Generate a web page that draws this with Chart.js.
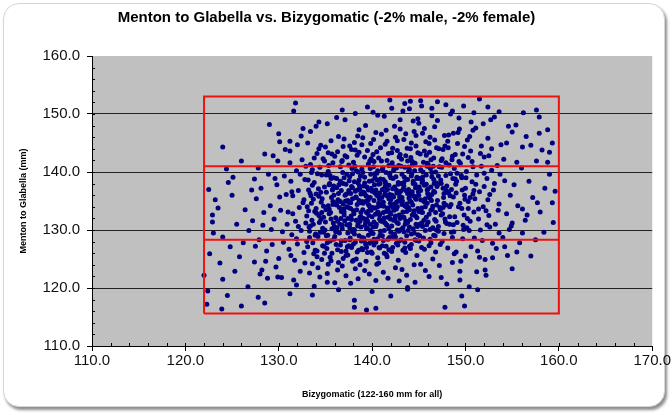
<!DOCTYPE html>
<html>
<head>
<meta charset="utf-8">
<script src="https://cdn.jsdelivr.net/npm/chart.js@4/dist/chart.umd.min.js"></script>
<style>
  html, body { margin: 0; padding: 0; background: #fff; }
  #wrap { position: relative; width: 672px; height: 415px; overflow: hidden; }
  #card {
    position: absolute; left: 3px; top: 3px; width: 660px; height: 402px;
    border: 1px solid #d6d6d6; border-radius: 16px; background: #fff;
    box-shadow: 2px 3px 3px rgba(0,0,0,0.45);
  }
  #chart { position: absolute; left: 0; top: 0; }
</style>
</head>
<body>
<div id="wrap">
  <div id="card"></div>
  <canvas id="chart" width="672" height="415"></canvas>
</div>
<script>
const chartTitle = 'Menton to Glabella vs. Bizygomatic (-2% male, -2% female)';
const xTitle = 'Bizygomatic (122-160 mm for all)';
const yTitle = 'Menton to Glabella (mm)';

const xRange = [110, 170];
const yRange = [110, 160];

// red limit box: x edges and y lines (bottom, lower split, upper split, top)
const boxX = [122, 160];
const boxY = [115.6, 128.3, 141.0, 153.0];

// sparse points around the edges of the cloud
const edgePoints = [
  [131.8,151.9],[131.6,150.5],[124.0,144.3],[126.0,141.9],[124.4,140.5],[130.1,145.2],[131.2,145.3],[128.5,143.1],
  [129.9,141.9],[131.2,141.6],[125.1,139.1],[127.4,138.8],[125.0,136.0],[136.8,150.7],[134.0,147.9],
  [122.9,132.6],[122.9,131.4],[124.0,128.8],[122.6,125.9],[123.7,124.3],[122.0,122.2],[124.0,121.5],[126.7,120.2],
  [127.8,118.4],[128.5,117.4],[123.9,116.4],[131.2,119.0],[133.6,118.8],[124.8,127.1],[125.8,125.4],[127.4,124.5],
  [128.2,123.1],[128.8,121.7],[129.9,121.9],[131.9,120.5],[135.2,121.0],[136.4,119.7],[138.1,117.9],[138.1,116.7],
  [139.4,116.2],[140.4,116.5],[147.8,116.7],[149.9,116.9],[149.6,118.6],[151.3,119.7],[143.8,120.1],[155.0,123.3],
  [152.1,123.1],[152.2,122.2],[149.4,122.9],[155.5,126.2],[152.9,125.2],[151.5,125.3],[154.2,127.1],[158.4,129.6],
  [156.1,129.5],[157.5,128.3],[154.7,130.1],[156.6,132.6],[159.3,134.7],[157.7,134.7],[156.1,133.6],[155.0,131.2],
  [153.6,129.5],[141.9,152.4],[147.0,152.1],[151.5,152.6],[157.6,150.7],[157.9,149.5],[157.9,146.7],[159.3,145.0],
  [159.0,143.4],[158.8,141.7],[156.5,146.1],[157.0,144.6],[156.1,144.3],[155.0,146.9],[155.5,141.7],[154.4,145.0],
  [123.2,135.2],[123.5,133.8],[122.5,137.0],[124.6,138.2],[123.0,129.5],[125.5,131.0],[126.4,133.5],[126.8,129.9],
  [127.5,127.2],[126.2,127.8],[125.3,122.9],[122.4,119.5],[124.5,118.7],[126.0,116.9],[122.3,117.2],
  [143.5,151.8],[144.0,150.9],[145.2,152.3],[146.4,151.0],[148.6,150.5],[149.8,151.4],[150.9,150.2],[152.4,151.2],
  [153.6,150.4],[139.5,151.2],[140.6,149.8],[138.2,150.1],[144.9,149.2],[143.0,149.0]
];

// x 127 - 135
const leftPoints = [
  [127.2,131.6],[127.6,135.4],[127.9,128.3],[128.1,137.2],[128.4,133.0],[128.7,126.4],[128.9,139.6],[128.3,130.8],
  [127.8,140.7],[128.6,124.6],[127.1,136.9],[128.0,122.4],
  [129.1,134.2],[129.3,127.5],[129.5,131.9],[129.8,137.8],[130.0,125.1],[130.2,133.4],[130.4,129.7],[130.6,139.3],
  [130.8,136.1],[129.4,142.8],[129.7,123.6],[130.1,135.7],[130.5,127.9],[130.9,131.0],[129.6,138.9],[130.3,121.8],
  [130.7,143.9],[129.2,130.1],[130.0,146.6],[129.0,148.2],
  [131.0,133.1],[131.1,126.7],[131.3,138.4],[131.4,129.2],[131.5,135.9],[131.7,124.8],[131.8,131.5],[131.9,140.2],
  [132.0,127.6],[132.1,136.8],[132.2,133.9],[132.3,122.9],[132.4,129.9],[132.5,142.1],[132.6,134.7],[132.7,126.1],
  [132.8,138.7],[132.9,131.2],[131.2,143.6],[131.6,121.4],[132.0,144.7],[132.6,147.5],[131.4,136.6],[132.3,139.6],
  [131.9,128.5],[132.8,124.3],[132.1,130.6],[131.5,132.8],[132.7,135.2],[132.9,141.0],[131.3,125.6],[132.4,146.2],
  [133.0,132.4],[133.1,127.1],[133.2,136.9],[133.3,129.8],[133.4,141.3],[133.5,134.6],[133.6,124.2],[133.7,131.0],
  [133.8,138.2],[133.9,126.5],[134.0,133.7],[134.1,143.2],[134.2,128.9],[134.3,135.8],[134.4,121.9],[134.5,131.8],
  [134.6,139.5],[134.7,127.3],[134.8,134.1],[134.9,137.4],[133.1,145.0],[133.3,122.6],[133.5,139.9],[133.7,135.3],
  [133.9,129.1],[134.1,125.4],[134.3,132.5],[134.5,144.6],[134.7,130.3],[134.9,126.0],[133.2,133.3],[133.4,130.7],
  [133.6,137.7],[133.8,142.4],[134.0,136.2],[134.2,123.5],[134.4,140.8],[134.6,133.0],[134.8,129.6],[133.4,147.0],
  [134.3,148.6],[134.9,141.9],[133.0,128.0],[134.6,124.9],[133.8,120.3]
];

// x 135 - 141
const centerLeftPoints = [
  [135.0,131.4],[135.1,136.5],[135.2,127.8],[135.3,140.1],[135.4,133.6],[135.5,125.3],[135.6,138.9],[135.7,130.2],
  [135.8,134.9],[135.9,128.4],[136.0,142.7],[136.1,132.1],[136.2,137.3],[136.3,126.6],[136.4,135.0],[136.5,129.5],
  [136.6,140.9],[136.7,133.2],[136.8,123.8],[136.9,138.0],[135.0,144.3],[135.2,122.5],[135.4,137.8],[135.6,131.9],
  [135.8,141.6],[136.0,128.9],[136.2,134.3],[136.4,146.1],[136.6,127.4],[136.8,130.8],[135.1,129.0],[135.3,134.2],
  [135.5,139.4],[135.7,126.0],[135.9,136.0],[136.1,130.0],[136.3,143.5],[136.5,133.9],[136.7,136.8],[136.9,125.1],
  [135.2,148.3],[135.6,145.4],[136.0,120.9],[136.4,124.4],[136.8,142.0],[135.4,132.8],[135.9,139.0],[136.3,131.5],
  [136.7,128.1],[136.9,134.5],[135.7,143.1],[136.2,149.4],[135.3,124.1],[136.6,138.4],[135.8,137.1],
  [137.0,132.6],[137.1,128.2],[137.2,137.9],[137.3,134.0],[137.4,125.7],[137.5,141.2],[137.6,130.4],[137.7,136.3],
  [137.8,127.0],[137.9,139.7],[138.0,133.3],[138.1,129.3],[138.2,143.8],[138.3,135.6],[138.4,126.2],[138.5,131.1],
  [138.6,138.6],[138.7,124.0],[138.8,134.7],[138.9,140.5],[137.0,145.7],[137.2,122.1],[137.4,135.1],[137.6,139.2],
  [137.8,131.8],[138.0,127.6],[138.2,136.7],[138.4,142.9],[138.6,129.0],[138.8,133.0],[137.1,136.0],[137.3,130.9],
  [137.5,127.3],[137.7,133.7],[137.9,135.4],[138.1,138.3],[138.3,125.0],[138.5,140.0],[138.7,132.2],[138.9,128.7],
  [137.0,139.0],[137.2,126.4],[137.4,132.0],[137.6,144.5],[137.8,137.5],[138.0,130.1],[138.2,123.3],[138.4,134.4],
  [138.6,147.3],[138.8,136.2],[137.3,142.6],[137.7,120.8],[138.1,145.1],[138.5,121.6],[138.9,126.8],[137.5,134.8],
  [137.9,129.7],[138.3,131.7],[138.7,137.0],[137.1,149.0],[138.0,141.7],[138.6,143.4],[137.6,128.3],[138.8,130.5],
  [137.9,124.6],
  [139.0,133.5],[139.1,128.6],[139.2,138.1],[139.3,131.3],[139.4,135.8],[139.5,126.1],[139.6,141.4],[139.7,134.2],
  [139.8,129.9],[139.9,137.2],[140.0,132.3],[140.1,143.0],[140.2,127.4],[140.3,136.4],[140.4,130.6],[140.5,139.8],
  [140.6,125.2],[140.7,134.6],[140.8,131.9],[140.9,138.8],[139.0,145.9],[139.2,123.0],[139.4,130.2],[139.6,136.9],
  [139.8,140.6],[140.0,128.0],[140.2,135.1],[140.4,146.8],[140.6,133.1],[140.8,126.9],[139.1,137.6],[139.3,134.9],
  [139.5,131.6],[139.7,127.7],[139.9,142.3],[140.1,129.4],[140.3,133.8],[140.5,136.0],[140.7,124.3],[140.9,144.2],
  [139.0,126.6],[139.2,139.1],[139.4,133.0],[139.6,129.1],[139.8,135.6],[140.0,138.5],[140.2,131.4],[140.4,121.3],
  [140.6,140.2],[140.8,135.3],[139.3,148.0],[139.7,122.4],[140.1,150.3],[140.5,124.1],[140.9,129.8],[139.5,143.7],
  [139.9,133.4],[140.3,139.0],[140.7,137.9],[139.1,132.0],[139.6,134.4],[140.0,136.7],[140.4,127.9],[140.8,132.6],
  [139.4,127.0],[139.8,131.0],[140.2,141.8],[140.6,128.5],[139.2,136.2],[140.0,119.4]
];

// x 141 - 147
const centerRightPoints = [
  [141.0,134.3],[141.1,129.0],[141.2,138.7],[141.3,132.1],[141.4,136.6],[141.5,127.2],[141.6,142.0],[141.7,133.5],
  [141.8,130.3],[141.9,139.4],[142.0,135.2],[142.1,126.3],[142.2,144.1],[142.3,131.7],[142.4,137.4],[142.5,128.8],
  [142.6,140.7],[142.7,134.0],[142.8,124.8],[142.9,136.3],[141.0,146.5],[141.2,122.7],[141.4,131.2],[141.6,135.9],
  [141.8,141.1],[142.0,129.6],[142.2,133.9],[142.4,147.9],[142.6,127.7],[142.8,138.2],[141.1,137.0],[141.3,126.0],
  [141.5,139.9],[141.7,128.4],[141.9,133.0],[142.1,143.3],[142.3,135.7],[142.5,132.4],[142.7,130.0],[142.9,142.6],
  [141.0,131.5],[141.2,134.8],[141.4,144.8],[141.6,125.4],[141.8,137.7],[142.0,139.0],[142.2,127.0],[142.4,134.5],
  [142.6,136.9],[142.8,131.1],[141.3,149.6],[141.7,121.7],[142.1,151.0],[142.5,123.5],[142.9,128.1],[141.5,133.2],
  [141.9,136.1],[142.3,140.3],[142.7,145.4],[141.1,140.4],[141.6,130.8],[142.0,132.7],[142.4,129.3],[142.8,135.0],
  [141.4,138.3],[141.8,126.6],[142.2,137.1],[142.6,133.6],[141.2,128.2],[142.0,118.6],[142.9,121.2],[141.5,147.2],
  [143.0,135.0],[143.1,130.1],[143.2,139.6],[143.3,133.1],[143.4,137.6],[143.5,127.9],[143.6,142.8],[143.7,134.5],
  [143.8,131.3],[143.9,140.1],[144.0,136.2],[144.1,126.8],[144.2,145.0],[144.3,132.6],[144.4,138.4],[144.5,129.5],
  [144.6,141.5],[144.7,135.3],[144.8,125.6],[144.9,137.3],[143.0,147.4],[143.2,123.2],[143.4,132.2],[143.6,136.8],
  [143.8,141.9],[144.0,130.5],[144.2,134.8],[144.4,148.8],[144.6,128.3],[144.8,139.1],[143.1,138.0],[143.3,126.5],
  [143.5,140.8],[143.7,129.0],[143.9,133.9],[144.1,144.0],[144.3,136.6],[144.5,133.3],[144.7,131.0],[144.9,143.3],
  [143.0,132.0],[143.2,135.6],[143.4,145.6],[143.6,126.1],[143.8,138.7],[144.0,140.4],[144.2,127.5],[144.4,135.9],
  [144.6,137.9],[144.8,132.1],[143.3,150.5],[143.7,122.2],[144.1,152.2],[144.5,124.0],[144.9,129.2],[143.5,134.2],
  [143.9,137.0],[144.3,141.2],[144.7,146.3],[143.1,141.0],[143.6,131.6],[144.0,133.5],[144.4,130.2],[144.8,135.8],
  [143.4,129.7],[144.2,139.3],[144.6,121.0],[143.8,119.8],
  [145.0,136.0],[145.1,131.0],[145.2,140.4],[145.3,133.8],[145.4,138.5],[145.5,128.6],[145.6,143.6],[145.7,135.4],
  [145.8,132.2],[145.9,141.0],[146.0,137.1],[146.1,127.3],[146.2,146.0],[146.3,133.4],[146.4,139.2],[146.5,130.4],
  [146.6,142.4],[146.7,136.5],[146.8,126.2],[146.9,138.1],[145.0,148.4],[145.2,124.1],[145.4,133.0],[145.6,137.7],
  [145.8,142.9],[146.0,131.4],[146.2,135.5],[146.4,149.7],[146.6,129.1],[146.8,140.0],[145.1,138.9],[145.3,127.0],
  [145.5,141.7],[145.7,129.9],[145.9,134.6],[146.1,144.9],[146.3,137.4],[146.5,134.1],[146.7,131.8],[146.9,144.2],
  [145.0,133.2],[145.2,136.8],[145.4,146.7],[145.6,126.7],[145.8,139.5],[146.0,141.3],[146.2,128.4],[146.4,136.1],
  [146.6,138.7],[146.8,133.0],[145.3,151.4],[145.7,123.0],[146.1,122.0],[146.5,125.0],[146.9,130.0],[145.5,135.0],
  [145.9,136.9],[146.3,142.1],[146.7,147.8],[145.4,130.6]
];

// x 147 - 160
const rightPoints = [
  [147.0,135.1],[147.1,130.6],[147.2,140.9],[147.3,133.5],[147.4,138.0],[147.5,128.0],[147.6,143.9],[147.7,136.3],
  [147.8,131.9],[147.9,141.6],[148.0,137.6],[148.1,126.9],[148.2,146.4],[148.3,134.0],[148.4,139.7],[148.5,129.6],
  [148.6,142.7],[148.7,135.7],[148.8,125.9],[148.9,138.8],[147.0,148.9],[147.2,123.9],[147.4,132.6],[147.6,137.2],
  [147.8,144.5],[148.0,131.1],[148.2,136.4],[148.4,150.0],[148.6,128.7],[148.8,140.6],[147.1,139.3],[147.3,127.5],
  [147.5,142.3],[147.7,129.4],[147.9,134.3],[148.1,145.3],[148.3,132.3],[148.5,137.0],[148.7,130.9],[148.9,143.0],
  [147.4,121.8],[148.0,120.7],[148.6,124.4],[147.9,151.6],[147.6,133.9],
  [149.0,136.4],[149.1,131.3],[149.3,141.8],[149.4,134.6],[149.6,139.0],[149.7,128.5],[149.9,144.4],[150.0,137.2],
  [150.2,132.0],[150.3,142.5],[150.5,135.6],[150.6,127.1],[150.8,147.2],[150.9,133.1],[149.2,146.8],[149.5,124.6],
  [149.8,130.1],[150.1,140.1],[150.4,129.9],[150.7,138.3],[149.0,126.2],[149.3,149.3],[149.6,133.7],[149.9,136.0],
  [150.2,145.5],[150.5,131.5],[150.8,140.9],[149.1,139.8],[149.4,121.4],[149.7,143.1],[150.0,125.5],[150.3,134.9],
  [150.6,148.6],[150.9,136.8],[150.4,120.2],
  [151.0,135.4],[151.2,139.5],[151.4,131.9],[151.6,143.2],[151.8,128.2],[152.0,137.5],[152.2,133.3],[152.4,145.8],
  [152.6,130.5],[152.8,140.3],[151.1,147.6],[151.3,126.4],[151.5,136.6],[151.7,141.0],[151.9,134.0],[152.1,124.9],
  [152.3,138.9],[152.5,132.5],[152.7,149.0],[152.9,127.7],[151.6,130.0],[152.0,142.6],[152.4,135.2],[151.2,122.8],
  [152.8,144.0],
  [153.0,136.9],[153.2,131.0],[153.4,141.1],[153.6,134.5],[153.8,144.7],[154.0,128.7],[154.2,138.5],[154.4,132.8],
  [154.6,147.9],[154.8,136.0],[153.3,126.8],[153.7,139.6],[154.1,142.2],[154.5,125.6],[153.1,149.5],[154.9,130.7],
  [155.2,137.8],[155.6,134.2],[156.0,140.7],[156.4,131.7],[156.8,138.4],[157.2,135.6],[157.6,141.9],[158.0,133.1],
  [158.5,137.2],[159.0,139.6],[159.4,131.3],[155.8,127.8],[157.0,125.5],[158.2,143.8],[159.6,136.7],[155.4,148.1],
  [156.2,150.2],[158.8,147.3]
];

// the solid-looking middle of the cloud
const densePoints = [
  [133.25,130.5],[133.45,135.9],[133.65,127.8],[133.85,133.2],[133.15,138.6],[133.55,131.7],[133.75,125.9],[133.35,136.4],
  [133.95,129.3],[133.05,134.0],[133.6,140.4],[133.3,128.7],
  [134.05,132.9],[134.25,137.1],[134.45,129.6],[134.65,135.4],[134.85,127.2],[134.15,139.7],[134.35,131.3],[134.55,134.8],
  [134.75,142.3],[134.95,130.0],[134.1,126.4],[134.5,136.5],[134.8,132.2],[134.3,144.0],
  [135.05,133.5],[135.25,129.1],[135.45,138.0],[135.65,135.6],[135.85,131.2],[135.15,126.8],[135.35,141.1],[135.55,133.0],
  [135.75,136.9],[135.95,130.6],[135.1,139.5],[135.5,128.1],[135.8,134.4],[135.3,143.3],[135.6,124.7],[135.9,137.6],
  [136.05,134.7],[136.25,130.4],[136.45,137.8],[136.65,132.0],[136.85,139.9],[136.15,127.5],[136.35,135.2],[136.55,131.0],
  [136.75,141.8],[136.95,133.6],[136.1,129.7],[136.4,136.3],[136.7,126.3],[136.9,144.4],[136.2,138.9],[136.6,134.9],
  [136.3,123.1],[136.8,130.2],
  [137.05,131.6],[137.25,136.2],[137.45,133.9],[137.65,128.6],[137.85,140.6],[137.15,135.0],[137.35,127.1],[137.55,138.5],
  [137.75,132.4],[137.95,130.0],[137.1,142.8],[137.4,129.5],[137.7,134.7],[137.9,137.3],[137.2,125.6],[137.6,131.0],
  [137.8,143.9],[137.3,139.6],[137.5,136.8],[137.0,133.1],
  [138.05,132.8],[138.25,135.7],[138.45,130.7],[138.65,137.6],[138.85,128.1],[138.15,141.0],[138.35,133.5],[138.55,126.5],
  [138.75,139.3],[138.95,134.9],[138.1,130.0],[138.4,136.9],[138.7,131.5],[138.9,144.7],[138.2,127.9],[138.6,135.1],
  [138.3,140.2],[138.8,132.3],[138.0,124.8],[138.5,138.1],[138.45,146.2],
  [139.05,134.6],[139.25,130.8],[139.45,137.4],[139.65,132.5],[139.85,139.6],[139.15,128.2],[139.35,135.9],[139.55,133.2],
  [139.75,141.9],[139.95,129.5],[139.1,136.5],[139.4,131.8],[139.7,138.4],[139.9,126.2],[139.2,142.6],[139.6,135.2],
  [139.3,127.6],[139.8,133.8],[139.0,139.9],[139.5,130.3],[139.85,144.9],[139.35,124.6],
  [140.05,133.9],[140.25,137.8],[140.45,131.0],[140.65,135.8],[140.85,129.1],[140.15,140.9],[140.35,132.7],[140.55,138.6],
  [140.75,127.0],[140.95,134.2],[140.1,130.5],[140.4,136.9],[140.7,142.4],[140.9,131.6],[140.2,128.4],[140.6,134.0],
  [140.3,139.7],[140.8,136.4],[140.0,126.0],[140.5,143.5],[140.65,133.0],[140.15,145.6],[140.85,138.0],
  [141.05,135.6],[141.25,131.4],[141.45,138.0],[141.65,133.8],[141.85,128.7],[141.15,140.7],[141.35,136.1],[141.55,130.9],
  [141.75,143.2],[141.95,134.6],[141.1,127.3],[141.4,137.5],[141.7,132.2],[141.9,139.8],[141.2,133.0],[141.6,145.3],
  [141.3,129.9],[141.8,135.4],[141.0,141.9],[141.5,125.8],[141.65,137.0],[141.25,134.1],[141.95,131.9],
  [142.05,134.2],[142.25,138.9],[142.45,132.0],[142.65,136.4],[142.85,129.8],[142.15,141.6],[142.35,133.4],[142.55,139.2],
  [142.75,127.4],[142.95,135.7],[142.1,130.7],[142.4,137.2],[142.7,143.7],[142.9,132.6],[142.2,128.9],[142.6,134.8],
  [142.3,140.9],[142.8,137.9],[142.0,126.5],[142.5,146.0],[142.65,131.3],[142.15,136.0],[142.85,141.1],
  [143.05,136.7],[143.25,132.3],[143.45,139.1],[143.65,134.0],[143.85,129.9],[143.15,142.2],[143.35,137.1],[143.55,131.0],
  [143.75,144.1],[143.95,135.5],[143.1,128.3],[143.4,138.2],[143.7,133.2],[143.9,140.8],[143.2,134.4],[143.6,146.6],
  [143.3,130.4],[143.8,136.3],[143.0,143.0],[143.5,126.9],[143.65,138.7],[143.25,135.0],
  [144.05,135.1],[144.25,139.7],[144.45,132.9],[144.65,137.3],[144.85,130.6],[144.15,142.5],[144.35,134.3],[144.55,140.2],
  [144.75,128.2],[144.95,136.6],[144.1,131.8],[144.4,138.0],[144.7,144.5],[144.9,133.7],[144.2,129.3],[144.6,135.6],
  [144.3,141.8],[144.8,138.9],[144.0,127.2],[144.5,147.0],[144.65,132.4],
  [145.05,137.4],[145.25,133.1],[145.45,140.0],[145.65,134.8],[145.85,130.9],[145.15,143.1],[145.35,138.2],[145.55,131.7],
  [145.75,145.2],[145.95,136.3],[145.1,129.0],[145.4,139.1],[145.7,134.0],[145.9,141.5],[145.2,135.2],[145.6,147.5],
  [145.3,131.2],[145.8,137.9],[145.0,128.1],
  [146.05,135.9],[146.25,140.6],[146.45,133.6],[146.65,138.0],[146.85,131.5],[146.15,143.4],[146.35,135.1],[146.55,141.0],
  [146.75,129.0],[146.95,137.5],[146.1,132.7],[146.4,139.9],[146.7,145.5],[146.9,134.3],[146.2,130.1],[146.6,136.7],
  [146.3,127.8],
  [147.05,137.9],[147.25,133.9],[147.45,140.8],[147.65,135.6],[147.85,131.4],[147.15,144.0],[147.35,138.6],[147.55,132.8],
  [147.75,146.3],[147.95,136.8],[147.1,129.8],[147.4,142.0],[147.7,134.6],[147.9,139.4],
  [148.05,136.5],[148.25,141.2],[148.45,134.4],[148.65,138.9],[148.85,132.3],[148.15,144.2],[148.35,135.9],[148.55,142.1],
  [148.75,129.7],[148.95,137.9],[148.3,131.0],[148.7,146.7],
  [149.05,138.4],[149.25,134.0],[149.45,141.5],[149.65,136.9],[149.85,132.6],[149.15,144.9],[149.55,139.4],[149.75,130.8],
  [149.35,147.4],[149.95,135.3],
  [150.05,139.0],[150.3,133.7],[150.55,143.6],[150.8,136.2],[150.15,130.4],[150.45,146.1],[150.7,141.8],[150.95,128.6],
  [151.1,137.9],[151.4,133.6],[151.7,144.5],[152.0,139.8],[152.3,130.9],[152.6,136.1],[151.9,148.3],[152.5,142.8],
  [153.1,138.0],[153.5,133.4]
];

const FONT = "Arial, 'Liberation Sans', sans-serif";

function toXY(list) {
  return list.map(p => ({ x: p[0], y: p[1] }));
}

const scatterData = toXY([].concat(edgePoints, leftPoints, centerLeftPoints, centerRightPoints, rightPoints, densePoints));

// red box outline and the two split lines
const outline = [
  { x: boxX[0], y: boxY[0] }, { x: boxX[1], y: boxY[0] }, { x: boxX[1], y: boxY[3] },
  { x: boxX[0], y: boxY[3] }, { x: boxX[0], y: boxY[0] }
];
const lowerSplit = [{ x: boxX[0], y: boxY[1] }, { x: boxX[1], y: boxY[1] }];
const upperSplit = [{ x: boxX[0], y: boxY[2] }, { x: boxX[1], y: boxY[2] }];

function redLine(data) {
  return {
    type: 'scatter', data, showLine: true, borderColor: '#ee1111', borderWidth: 2,
    pointRadius: 0, fill: false, order: 0
  };
}

// gray plot background
const plotBackground = {
  id: 'plotBackground',
  beforeDraw(chart) {
    const { ctx, chartArea: a } = chart;
    ctx.save();
    ctx.fillStyle = '#c0c0c0';
    ctx.fillRect(a.left, a.top, a.right - a.left, a.bottom - a.top);
    ctx.restore();
  }
};

// small minor ticks every 2 units, drawn inside the plot
const minorTicks = {
  id: 'minorTicks',
  afterDraw(chart) {
    const { ctx, chartArea: a, scales } = chart;
    ctx.save();
    ctx.strokeStyle = '#000';
    ctx.lineWidth = 1;
    ctx.beginPath();
    for (let v = xRange[0] + 2; v < xRange[1]; v += 2) {
      const px = Math.round(scales.x.getPixelForValue(v)) + 0.5;
      ctx.moveTo(px, a.bottom);
      ctx.lineTo(px, a.bottom - 3);
    }
    for (let v = yRange[0] + 2; v < yRange[1]; v += 2) {
      const py = Math.round(scales.y.getPixelForValue(v)) + 0.5;
      ctx.moveTo(a.left, py);
      ctx.lineTo(a.left + 3, py);
    }
    ctx.stroke();
    ctx.restore();
  }
};

new Chart(document.getElementById('chart'), {
  type: 'scatter',
  data: {
    datasets: [
      redLine(outline),
      redLine(lowerSplit),
      redLine(upperSplit),
      {
        label: 'Subjects', data: scatterData, backgroundColor: '#000080', borderColor: '#000080',
        borderWidth: 0, pointRadius: 2.5, order: 1
      }
    ]
  },
  options: {
    responsive: false,
    animation: false,
    layout: { padding: { left: 0, right: 19, top: 0, bottom: 0 } },
    plugins: {
      legend: { display: false },
      tooltip: { enabled: false },
      title: {
        display: true, text: chartTitle, color: '#000',
        font: { family: FONT, size: 15, weight: 'bold' },
        padding: { top: 9, bottom: 29 }
      }
    },
    scales: {
      x: {
        type: 'linear', min: xRange[0], max: xRange[1],
        afterFit: s => { s.height = 69; },
        border: { display: true, color: '#000', width: 1 },
        grid: { drawOnChartArea: false, drawTicks: true, tickLength: 5, tickColor: '#000' },
        ticks: {
          stepSize: 10, padding: 1, color: '#111', maxRotation: 0,
          font: { family: FONT, size: 15 },
          callback: v => v.toFixed(1)
        },
        title: {
          display: true, text: xTitle, color: '#000',
          font: { family: FONT, size: 9, weight: 'bold' },
          padding: { top: 0, bottom: 15 }
        }
      },
      y: {
        type: 'linear', min: yRange[0], max: yRange[1],
        afterFit: s => { s.width = 92; },
        border: { display: true, color: '#000', width: 1 },
        grid: {
          drawTicks: true, tickLength: 5, tickColor: '#000',
          color: ctx => (ctx.tick && (ctx.tick.value === yRange[0] || ctx.tick.value === yRange[1])) ? 'rgba(0,0,0,0)' : '#222'
        },
        ticks: {
          stepSize: 10, padding: 7, color: '#111',
          font: { family: FONT, size: 15 },
          callback: v => v.toFixed(1)
        },
        title: {
          display: true, text: yTitle, color: '#000',
          font: { family: FONT, size: 9, weight: 'bold' },
          padding: { top: 18, bottom: 0 }
        }
      }
    }
  },
  plugins: [plotBackground, minorTicks]
});
</script>
</body>
</html>
